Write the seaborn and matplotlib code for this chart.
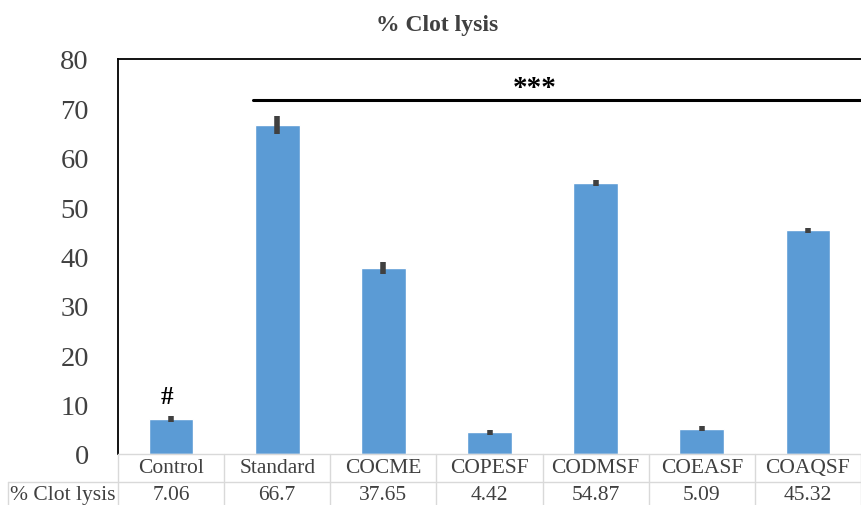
import matplotlib
matplotlib.use("Agg")
import matplotlib.pyplot as plt
import matplotlib.transforms as mtransforms
from matplotlib.lines import Line2D
import seaborn as sns
import pandas as pd

categories = ["Control", "Standard", "COCME", "COPESF", "CODMSF", "COEASF", "COAQSF"]
values = [7.06, 66.7, 37.65, 4.42, 54.87, 5.09, 45.32]
errors = [0.6, 1.8, 1.2, 0.5, 0.6, 0.5, 0.5]
value_labels = ["7.06", "66.7", "37.65", "4.42", "54.87", "5.09", "45.32"]
yticks = [0, 10, 20, 30, 40, 50, 60, 70, 80]
series_name = "% Clot lysis"

sns.set_theme(style="white")
plt.rcParams["font.family"] = ["Liberation Serif", "DejaVu Serif"]

W, H = 861, 506
fig = plt.figure(figsize=(W / 100, H / 100), dpi=100)
ax = fig.add_axes([118 / W, (H - 455) / H, (W - 118) / W, (455 - 60) / H])

df = pd.DataFrame({"cat": categories, "val": values})
sns.barplot(data=df, x="cat", y="val", order=categories, color="#5B9BD5",
            width=0.42, saturation=1, errorbar=None, ax=ax)
ax.errorbar(range(len(categories)), values, yerr=errors, fmt="none",
            ecolor="#404040", elinewidth=4.0, capsize=0, zorder=5)

ax.set_xlim(-0.5, 6.5)
ax.set_ylim(0, 80)
ax.set_yticks(yticks)
ax.set_yticklabels([str(t) for t in yticks], fontsize=20.5, color="#404040")
ax.tick_params(axis="y", length=0, pad=21)
ax.tick_params(axis="x", length=0, labelbottom=False)
ax.set_xlabel("")
ax.set_ylabel("")
for s in ["top", "left"]:
    ax.spines[s].set_color("black")
    ax.spines[s].set_linewidth(1.3)
ax.spines["right"].set_visible(False)
ax.spines["bottom"].set_color("#d9d9d9")
ax.spines["bottom"].set_linewidth(1.0)

# significance annotations
ax.plot([0.77, 6.5], [71.7, 71.7], color="black", lw=2.2, clip_on=False)
ax.text(3.43, 71.4, "***", ha="center", va="bottom", fontsize=21,
        fontweight="bold", color="black")
ax.text(-0.04, 9.4, "#", ha="center", va="bottom", fontsize=18,
        fontweight="bold", color="black")

# data table below the axes
tr = mtransforms.blended_transform_factory(ax.transData, fig.transFigure)
figy = lambda py: (H - py) / H
gc = "#d9d9d9"
for i in range(len(categories) + 1):
    xb = -0.5 + i
    ax.add_line(Line2D([xb, xb], [figy(455), figy(506)], transform=tr,
                       color=gc, lw=1.0, clip_on=False))
ax.add_line(Line2D([8 / W, 1.0], [figy(483), figy(483)], transform=fig.transFigure,
                   color=gc, lw=1.0, clip_on=False))
ax.add_line(Line2D([8 / W, 8 / W], [figy(483), figy(506)], transform=fig.transFigure,
                   color=gc, lw=1.0, clip_on=False))
for i, (c, v) in enumerate(zip(categories, value_labels)):
    ax.text(i, figy(469), c, transform=tr, ha="center", va="center",
            fontsize=15.5, color="#404040", clip_on=False)
    ax.text(i, figy(496), v, transform=tr, ha="center", va="center",
            fontsize=15.5, color="#404040", clip_on=False)
fig.text(63 / W, figy(496), series_name, ha="center", va="center",
         fontsize=15.5, color="#404040")

fig.text(437 / W, figy(25), "% Clot lysis", ha="center", va="center",
         fontsize=17, fontweight="bold", color="#404040")

fig.savefig("out.png", dpi=100)
